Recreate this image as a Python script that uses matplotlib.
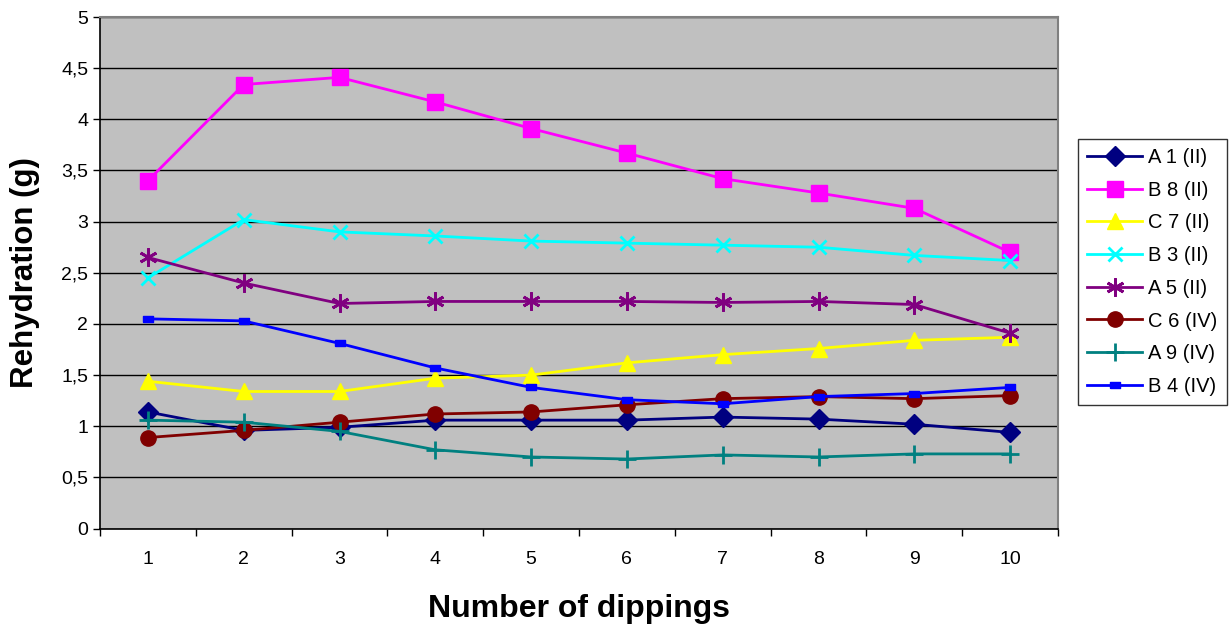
import matplotlib
matplotlib.use("Agg")
import matplotlib.pyplot as plt
from matplotlib.ticker import FixedLocator, FuncFormatter

plt.rcParams['font.family'] = ['Liberation Sans', 'DejaVu Sans']

dippings = [1, 2, 3, 4, 5, 6, 7, 8, 9, 10]
a1_ii = [1.14, 0.96, 0.99, 1.06, 1.06, 1.06, 1.09, 1.07, 1.02, 0.94]
b8_ii = [3.40, 4.34, 4.41, 4.17, 3.91, 3.67, 3.42, 3.28, 3.13, 2.70]
c7_ii = [1.44, 1.34, 1.34, 1.47, 1.50, 1.62, 1.70, 1.76, 1.84, 1.87]
b3_ii = [2.45, 3.02, 2.90, 2.86, 2.81, 2.79, 2.77, 2.75, 2.67, 2.62]
a5_ii = [2.65, 2.40, 2.20, 2.22, 2.22, 2.22, 2.21, 2.22, 2.19, 1.91]
c6_iv = [0.89, 0.96, 1.04, 1.12, 1.14, 1.21, 1.27, 1.29, 1.27, 1.30]
a9_iv = [1.06, 1.04, 0.95, 0.77, 0.70, 0.68, 0.72, 0.70, 0.73, 0.73]
b4_iv = [2.05, 2.03, 1.81, 1.57, 1.38, 1.26, 1.22, 1.29, 1.32, 1.38]
y_ticks = [0, 0.5, 1, 1.5, 2, 2.5, 3, 3.5, 4, 4.5, 5]

dash = [(-1, -0.55), (1, -0.55), (1, 0.55), (-1, 0.55), (-1, -0.55)]

series = [
    ("A 1 (II)", a1_ii, "#000080", "D", 10, None),
    ("B 8 (II)", b8_ii, "#FF00FF", "s", 11, None),
    ("C 7 (II)", c7_ii, "#FFFF00", "^", 11, None),
    ("B 3 (II)", b3_ii, "#00FFFF", "x", 10, 2.0),
    ("A 5 (II)", a5_ii, "#800080", (6, 2, 0), 13, 2.0),
    ("C 6 (IV)", c6_iv, "#800000", "o", 11, None),
    ("A 9 (IV)", a9_iv, "#008080", "+", 13, 2.0),
    ("B 4 (IV)", b4_iv, "#0000FF", dash, 7, None),
]

fig = plt.figure(figsize=(12.32, 6.25), dpi=100)
ax = fig.add_axes([100/1232, 1 - 528.6/625, 958/1232, (528.6 - 17)/625])
ax.set_facecolor("#C0C0C0")

for label, vals, color, marker, ms, mew in series:
    kw = dict(color=color, marker=marker, markersize=ms, linewidth=2.0,
              label=label, markerfacecolor=color, markeredgecolor=color, clip_on=False)
    if mew is not None:
        kw['markeredgewidth'] = mew
    ax.plot(dippings, vals, **kw)

ax.set_xlim(0.5, 10.5)
ax.set_ylim(0, 5)
ax.yaxis.set_major_locator(FixedLocator(y_ticks))
ax.yaxis.set_major_formatter(FuncFormatter(lambda v, p: ("%g" % v).replace(".", ",")))
ax.set_xticks(dippings)
ax.set_xticks([x + 0.5 for x in [0] + dippings], minor=True)
ax.tick_params(axis='x', which='major', length=0, pad=16, labelsize=14)
ax.tick_params(axis='x', which='minor', length=5, width=1, direction='out', color='black')
ax.tick_params(axis='y', which='major', length=5, width=1, direction='out', labelsize=14, pad=3.5)
ax.grid(axis='y', color='black', linewidth=1)
ax.set_axisbelow(True)

for s in ['top', 'right']:
    ax.spines[s].set_color('#808080')
    ax.spines[s].set_linewidth(1.5)
for s in ['left', 'bottom']:
    ax.spines[s].set_color('black')
    ax.spines[s].set_linewidth(1.2)

ax.set_xlabel("Number of dippings", fontsize=23, fontweight='bold', labelpad=19)
ax.set_ylabel("Rehydration (g)", fontsize=22.5, fontweight='bold')
ax.yaxis.set_label_coords(-0.063, 0.5)

leg = fig.legend(loc='upper left', bbox_to_anchor=(1078/1232, 1 - 139/625),
                 frameon=True, fancybox=False, edgecolor='black', fontsize=14.5,
                 handlelength=2.75, labelspacing=0.68, borderpad=0.45, handletextpad=0.3,
                 borderaxespad=0)
leg.get_frame().set_linewidth(1.0)

fig.savefig("out.png", dpi=100)
